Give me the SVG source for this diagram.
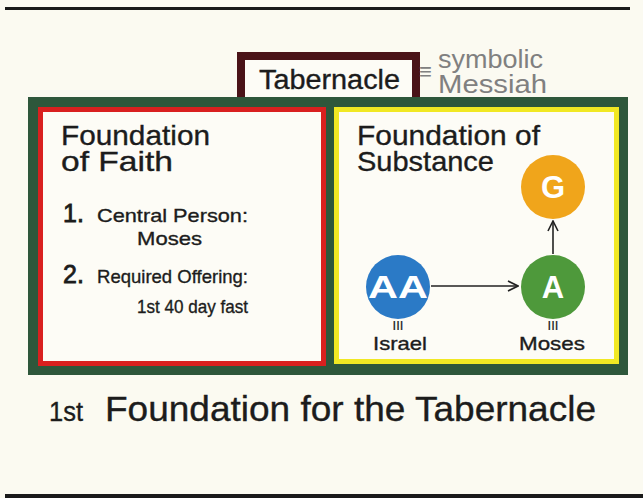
<svg xmlns="http://www.w3.org/2000/svg" width="643" height="498" viewBox="0 0 643 498">
<defs>
<style>
text{font-family:"Liberation Sans","DejaVu Sans",Arial,sans-serif;fill:#1c1c1c;stroke:#1c1c1c;stroke-width:0.35}
.title{font-size:28px}
.item{font-size:19px}
.num{font-size:25px;stroke-width:0.8}
.lbl{font-size:19px}
.circ{font-size:31px;font-weight:bold;fill:#ffffff;stroke:none;text-anchor:middle}
.grey{fill:#808080;stroke:none;font-size:25px}
.bars{font-size:13px;text-anchor:middle;stroke-width:0.2}
.conn{stroke:#222;stroke-width:1.6;fill:none}
</style>
<marker id="chev" viewBox="0 0 12 12" refX="11" refY="6" markerWidth="12" markerHeight="12" markerUnits="userSpaceOnUse" orient="auto">
<path d="M1,1 L11,6 L1,11" fill="none" stroke="#222" stroke-width="1.6"/>
</marker>
</defs>
<rect x="0" y="0" width="643" height="498" fill="#fbfaf1"/>
<rect x="5" y="7" width="625" height="3" fill="#1a1a1a"/>
<rect x="5" y="494" width="638" height="4" fill="#1a1a1a"/>

<g id="tabernacle">
<rect x="237" y="52" width="183" height="48" fill="#4a1318"/>
<rect x="245" y="60" width="167" height="40" fill="#fdfcf6"/>
<text x="259" y="89" font-size="27" textLength="141" lengthAdjust="spacingAndGlyphs">Tabernacle</text>
</g>
<g id="symbolic">
<text x="419" y="79" font-size="22" style="fill:#808080;stroke:none">≡</text>
<text class="grey" x="438" y="68" textLength="105" lengthAdjust="spacingAndGlyphs">symbolic</text>
<text class="grey" x="438" y="93" textLength="109" lengthAdjust="spacingAndGlyphs">Messiah</text>
</g>

<g id="frame">
<rect x="28" y="97" width="600" height="278" fill="#2e573b"/>
</g>

<g id="faith">
<rect x="40.5" y="109.5" width="283" height="254" fill="#fdfcf6" stroke="#d9201f" stroke-width="5"/>
<text class="title" x="61" y="145" textLength="149" lengthAdjust="spacingAndGlyphs">Foundation</text>
<text class="title" x="61" y="171" textLength="112" lengthAdjust="spacingAndGlyphs">of Faith</text>
<text class="num" x="63" y="222">1.</text>
<text class="item" x="97" y="222" textLength="151" lengthAdjust="spacingAndGlyphs">Central Person:</text>
<text class="item" x="137" y="245" textLength="65" lengthAdjust="spacingAndGlyphs">Moses</text>
<text class="num" x="63" y="283">2.</text>
<text class="item" x="97" y="283" textLength="151" lengthAdjust="spacingAndGlyphs">Required Offering:</text>
<text class="item" x="137" y="313" textLength="111" lengthAdjust="spacingAndGlyphs">1st 40 day fast</text>
</g>

<g id="substance">
<rect x="336.5" y="109.5" width="280" height="252" fill="#fdfcf6" stroke="#f1e823" stroke-width="5"/>
<text class="title" x="357" y="145" textLength="183" lengthAdjust="spacingAndGlyphs">Foundation of</text>
<text class="title" x="357" y="171" textLength="137" lengthAdjust="spacingAndGlyphs">Substance</text>
</g>

<g id="connectors">
<line class="conn" x1="431" y1="286" x2="518" y2="286" marker-end="url(#chev)"/>
<line class="conn" x1="553" y1="254" x2="553" y2="221" marker-end="url(#chev)"/>
</g>

<g id="node-G">
<circle cx="553" cy="187" r="32" fill="#f0a51b"/>
<text class="circ" x="553" y="198">G</text>
</g>
<g id="node-AA">
<circle cx="398" cy="287" r="32" fill="#2b7ac6"/>
<text class="circ" x="398" y="298" textLength="60" lengthAdjust="spacingAndGlyphs">AA</text>
<text class="bars" x="398" y="330">III</text>
<text class="lbl" x="400" y="350" text-anchor="middle" textLength="54" lengthAdjust="spacingAndGlyphs">Israel</text>
</g>
<g id="node-A">
<circle cx="553" cy="287" r="32" fill="#4e993b"/>
<text class="circ" x="553" y="298">A</text>
<text class="bars" x="553" y="330">III</text>
<text class="lbl" x="552" y="350" text-anchor="middle" textLength="66" lengthAdjust="spacingAndGlyphs">Moses</text>
</g>

<g id="caption">
<text x="49" y="421" font-size="27" textLength="34" lengthAdjust="spacingAndGlyphs">1st</text>
<text x="105" y="421" font-size="35" textLength="491" lengthAdjust="spacingAndGlyphs">Foundation for the Tabernacle</text>
</g>
</svg>
